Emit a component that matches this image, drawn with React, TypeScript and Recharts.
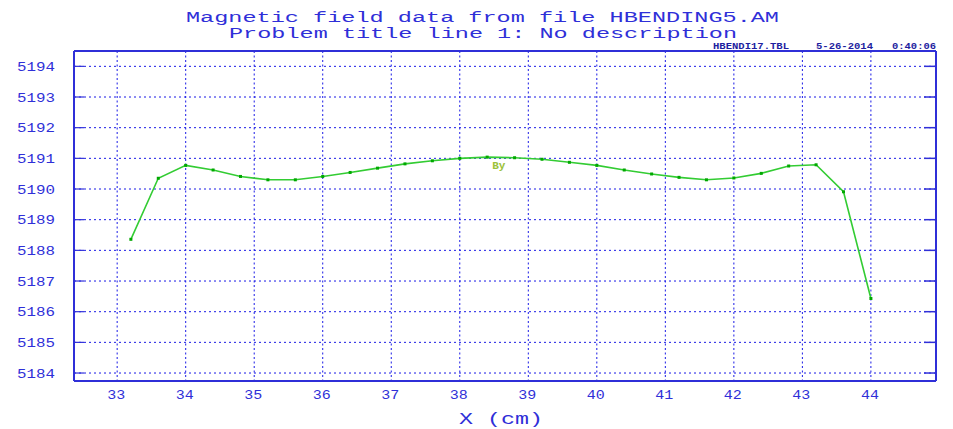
import React from 'react';
import {
  LineChart,
  Line,
  XAxis,
  YAxis,
  CartesianGrid,
  ReferenceDot,
  Label,
} from 'recharts';

const xValues = [
  33.2, 33.6, 34.0, 34.4, 34.8, 35.2, 35.6, 36.0, 36.4, 36.8, 37.2, 37.6, 38.0, 38.4,
  38.8, 39.2, 39.6, 40.0, 40.4, 40.8, 41.2, 41.6, 42.0, 42.4, 42.8, 43.2, 43.6, 44.0,
];
const byValues = [
  5188.36, 5190.35, 5190.77, 5190.62, 5190.41, 5190.3, 5190.3, 5190.41, 5190.54, 5190.68,
  5190.82, 5190.92, 5191.0, 5191.04, 5191.02, 5190.97, 5190.87, 5190.77, 5190.62, 5190.49,
  5190.38, 5190.3, 5190.36, 5190.51, 5190.75, 5190.79, 5189.91, 5186.43,
];
const xTicks = [33, 34, 35, 36, 37, 38, 39, 40, 41, 42, 43, 44];
const yTicks = [5184, 5185, 5186, 5187, 5188, 5189, 5190, 5191, 5192, 5193, 5194];
const xDomain: [number, number] = [32.37, 44.95];
const yDomain: [number, number] = [5183.74, 5194.5];
const titleLine1 = 'Magnetic field data from file HBENDING5.AM';
const titleLine2 = 'Problem title line 1: No description';
const infoFile = 'HBENDI17.TBL';
const infoDate = '5-26-2014';
const infoTime = '0:40:06';
const xTitle = 'X  (cm)';
const seriesLabel = 'By';

const data = xValues.map((x, i) => ({ x, by: byValues[i] }));

const BLUE = '#2f2fd8';
const GRID = '#1a1ae6';
const MONO = '"Liberation Mono", "DejaVu Sans Mono", monospace';

const YTick = (props: any) => {
  const { x, y, payload } = props;
  return (
    <text
      x={x}
      y={y + 4.5}
      textAnchor="end"
      fill={BLUE}
      fontFamily={MONO}
      fontSize={13}
      textLength={38}
      lengthAdjust="spacingAndGlyphs"
    >
      {String(payload.value)}
    </text>
  );
};

const XTick = (props: any) => {
  const { x, y, payload } = props;
  return (
    <text
      x={x - 1}
      y={y + 8}
      textAnchor="middle"
      fill={BLUE}
      fontFamily={MONO}
      fontSize={12.5}
      textLength={18}
      lengthAdjust="spacingAndGlyphs"
    >
      {String(payload.value)}
    </text>
  );
};

const NoTick = () => <g />;

const Dot = (props: any) => {
  const { cx, cy, index } = props;
  if (cx == null || cy == null) return <g key={`d${index}`} />;
  return (
    <g key={`d${index}`}>
      <rect x={cx - 1.5} y={cy - 1.5} width={3} height={3} fill="#00a800" />
    </g>
  );
};

export default function App() {
  return (
    <div
      style={{
        position: 'absolute',
        left: 0,
        top: 0,
        width: 953,
        height: 429,
        background: '#ffffff',
      }}
    >
      <LineChart
        width={953}
        height={429}
        data={data}
        margin={{ top: 51, right: 17, bottom: 0, left: 0 }}
      >
        <CartesianGrid
          horizontal={true}
          vertical={false}
          stroke={GRID}
          strokeDasharray="2 3"
          strokeWidth={1}
        />
        <CartesianGrid
          horizontal={false}
          vertical={true}
          stroke={GRID}
          strokeDasharray="2 2.5"
          strokeWidth={1}
        />
        <XAxis
          dataKey="x"
          type="number"
          domain={xDomain}
          allowDataOverflow
          ticks={xTicks}
          interval={0}
          height={48}
          tickLine={false}
          tickSize={0}
          tickMargin={10}
          axisLine={{ stroke: BLUE, strokeWidth: 2 }}
          tick={<XTick />}
        />
        <XAxis
          xAxisId="bm"
          type="number"
          orientation="bottom"
          mirror
          domain={xDomain}
          allowDataOverflow
          ticks={xTicks}
          interval={0}
          tickSize={8}
          tickLine={{ stroke: BLUE, strokeWidth: 1.2 }}
          axisLine={false}
          tick={NoTick}
        />
        <XAxis
          xAxisId="tm"
          type="number"
          orientation="top"
          mirror
          domain={xDomain}
          allowDataOverflow
          ticks={xTicks}
          interval={0}
          tickLine={false}
          axisLine={{ stroke: BLUE, strokeWidth: 2 }}
          tick={NoTick}
        />
        <YAxis
          type="number"
          domain={yDomain}
          allowDataOverflow
          ticks={yTicks}
          interval={0}
          width={74}
          tickLine={false}
          tickSize={0}
          tickMargin={19}
          axisLine={{ stroke: BLUE, strokeWidth: 2 }}
          tick={<YTick />}
        />
        <YAxis
          yAxisId="lm"
          type="number"
          orientation="left"
          mirror
          domain={yDomain}
          allowDataOverflow
          ticks={yTicks}
          interval={0}
          tickSize={10}
          tickLine={{ stroke: BLUE, strokeWidth: 1.2 }}
          axisLine={false}
          tick={NoTick}
        />
        <YAxis
          yAxisId="rm"
          type="number"
          orientation="right"
          mirror
          domain={yDomain}
          allowDataOverflow
          ticks={yTicks}
          interval={0}
          tickSize={12}
          tickLine={{ stroke: BLUE, strokeWidth: 1.5 }}
          axisLine={{ stroke: BLUE, strokeWidth: 2 }}
          tick={NoTick}
        />
        <Line
          dataKey="by"
          type="linear"
          stroke="#33cc33"
          strokeWidth={1.6}
          dot={Dot}
          activeDot={false}
          isAnimationActive={false}
        />
        <ReferenceDot x={38.57} y={5190.77} r={0} fill="none" stroke="none">
          <Label
            value={seriesLabel}
            position="center"
            fill="#9cc23a"
            fontFamily={MONO}
            fontWeight="bold"
            fontSize={11}
          />
        </ReferenceDot>
      </LineChart>
      <svg
        width={953}
        height={60}
        style={{ position: 'absolute', left: 0, top: 0, pointerEvents: 'none' }}
      >
        <text
          x={186}
          y={21.7}
          fill={BLUE}
          fontFamily={MONO}
          fontSize={15.5}
          textLength={593}
          lengthAdjust="spacingAndGlyphs"
        >
          {titleLine1}
        </text>
        <text
          x={229}
          y={38}
          fill={BLUE}
          fontFamily={MONO}
          fontSize={15.5}
          textLength={508}
          lengthAdjust="spacingAndGlyphs"
        >
          {titleLine2}
        </text>
        <text
          x={713}
          y={48.5}
          fill="#1e1ea0"
          fontFamily={MONO}
          fontWeight="bold"
          fontSize={8.5}
          textLength={76}
          lengthAdjust="spacingAndGlyphs"
        >
          {infoFile}
        </text>
        <text
          x={816}
          y={48.5}
          fill="#1e1ea0"
          fontFamily={MONO}
          fontWeight="bold"
          fontSize={8.5}
          textLength={57}
          lengthAdjust="spacingAndGlyphs"
        >
          {infoDate}
        </text>
        <text
          x={892}
          y={48.5}
          fill="#1e1ea0"
          fontFamily={MONO}
          fontWeight="bold"
          fontSize={8.5}
          textLength={44}
          lengthAdjust="spacingAndGlyphs"
        >
          {infoTime}
        </text>
      </svg>
      <svg
        width={953}
        height={40}
        style={{ position: 'absolute', left: 0, top: 389, pointerEvents: 'none' }}
      >
        <text
          x={459}
          y={35}
          fill={BLUE}
          fontFamily={MONO}
          fontSize={16}
          textLength={84}
          lengthAdjust="spacingAndGlyphs"
        >
          {xTitle}
        </text>
      </svg>
    </div>
  );
}
